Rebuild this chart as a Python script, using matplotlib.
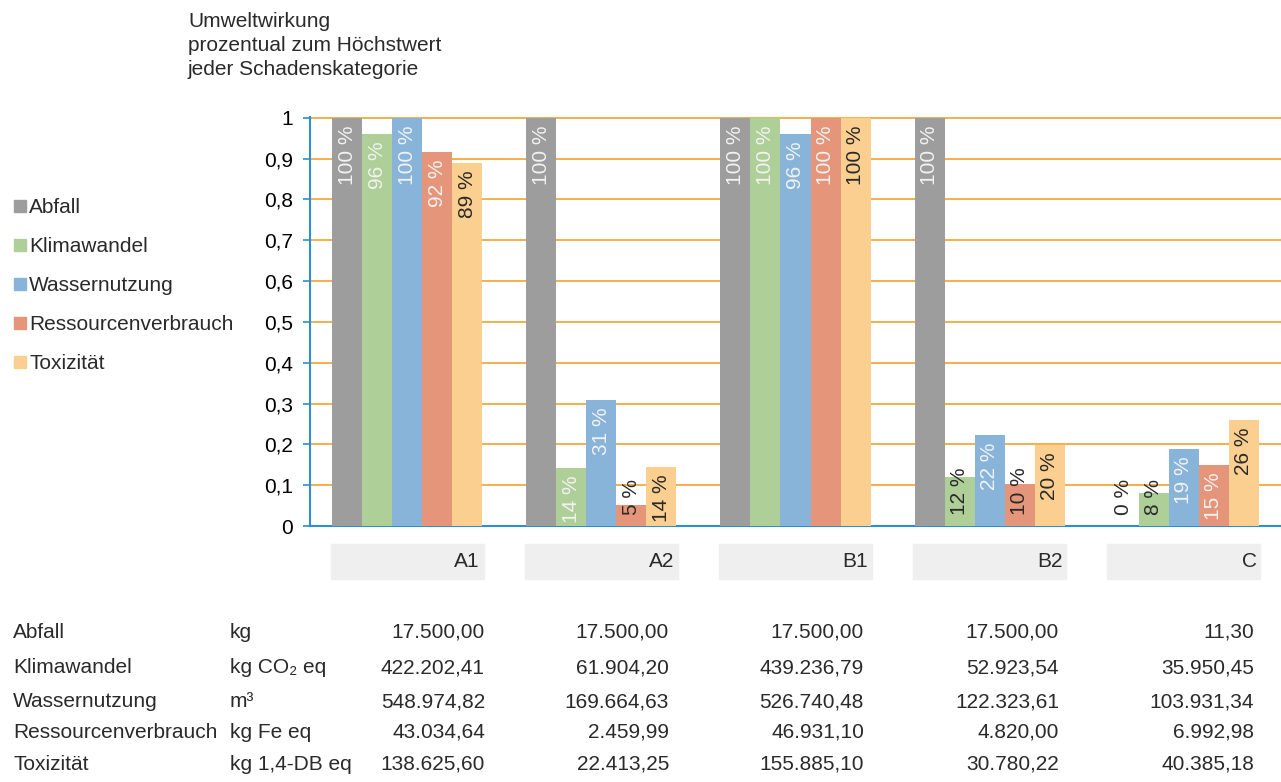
import numpy as np
import matplotlib.pyplot as plt
from matplotlib.patches import Rectangle
from matplotlib.transforms import blended_transform_factory

plt.rcParams['font.family'] = ['Liberation Sans', 'DejaVu Sans']
plt.rcParams['text.color'] = '#2a2a2a'

# Absolute results per variant
varianten = ['A1', 'A2', 'B1', 'B2', 'C']
kategorien = ['Abfall', 'Klimawandel', 'Wassernutzung', 'Ressourcenverbrauch', 'Toxizität']
einheiten = ['kg', 'kg CO₂ eq', 'm³', 'kg Fe eq', 'kg 1,4-DB eq']
abfall = [17500.00, 17500.00, 17500.00, 17500.00, 11.30]
klimawandel = [422202.41, 61904.20, 439236.79, 52923.54, 35950.45]
wassernutzung = [548974.82, 169664.63, 526740.48, 122323.61, 103931.34]
ressourcen = [43034.64, 2459.99, 46931.10, 4820.00, 6992.98]
toxizitaet = [138625.60, 22413.25, 155885.10, 30780.22, 40385.18]

farben = ['#9c9d9c', '#afcf98', '#88b4da', '#e5957a', '#fbcf8f']
textfarben = ['#f2f2f2', '#f2f2f2', '#f2f2f2', '#f2f2f2', '#2a2a2a']
blau = '#2a8fd3'
fs = 15

werte = np.array([abfall, klimawandel, wassernutzung, ressourcen, toxizitaet])
anteile = werte / werte.max(axis=1, keepdims=True)


def de_zahl(v):
    s = f'{v:,.2f}'
    return s.replace(',', 'X').replace('.', ',').replace('X', '.')


W, H = 1281, 782
fig = plt.figure(figsize=(W / 100, H / 100), dpi=100)
ax = fig.add_axes([310 / W, 1 - 526 / H, 971 / W, 409 / H])

x = np.arange(len(varianten)) + 0.5
breite = 0.1545
for i, farbe in enumerate(farben):
    pos = x + (i - 2) * breite
    ax.bar(pos, anteile[i], breite, color=farbe, zorder=3)
    for p, v in zip(pos, anteile[i]):
        txt = f'{v * 100:.0f} %'
        if v >= 0.13:
            ax.text(p, v - 0.018, txt, rotation=90, ha='center', va='top',
                    color=textfarben[i], fontsize=fs, zorder=4)
        else:
            ax.text(p, 0.028, txt, rotation=90, ha='center', va='bottom',
                    color='#2a2a2a', fontsize=fs, zorder=4)

ax.set_xlim(0, len(varianten))
ax.set_ylim(0, 1.002)
ax.set_yticks(np.arange(0, 1.01, 0.1))
ax.set_yticklabels(['0'] + [f'0,{k}' for k in range(1, 10)] + ['1'], fontsize=fs)
ax.set_xticks([])
ax.yaxis.grid(True, color='#f3a12c', linewidth=1.2)
ax.set_axisbelow(True)
for s in ['top', 'right']:
    ax.spines[s].set_visible(False)
for s in ['left', 'bottom']:
    ax.spines[s].set_color(blau)
    ax.spines[s].set_linewidth(1.5)
ax.tick_params(axis='y', direction='out', length=5, width=1.2, color=blau, pad=7)

# grey label boxes under each group
trans = blended_transform_factory(ax.transData, ax.transAxes)
for c, name in zip(x, varianten):
    ax.add_patch(Rectangle((c - 0.394, -0.13), 0.788, 0.086, transform=trans,
                           color='#efefef', clip_on=False, zorder=1))
    ax.text(c + 0.375, -0.087, name, transform=trans, ha='right', va='center', fontsize=fs)

# heading
titel = ['Umweltwirkung', 'prozentual zum Höchstwert', 'jeder Schadenskategorie']
for k, zeile in enumerate(titel):
    fig.text(188 / W, 1 - (27 + 24 * k) / H, zeile, ha='left', va='baseline', fontsize=fs)

# legend on the left
for k, (kat, farbe) in enumerate(zip(kategorien, farben)):
    base = 213 + 39 * k
    fig.add_artist(Rectangle((14 / W, 1 - (base - 1) / H), 12 / W, 12 / H,
                             transform=fig.transFigure, color=farbe))
    fig.text(29 / W, 1 - base / H, kat, ha='left', va='baseline', fontsize=fs)

# table of absolute values
zeilen_base = [638, 673, 707, 738, 770]
spalten_x = [485, 669, 864, 1059, 1254]
for r, (kat, einheit) in enumerate(zip(kategorien, einheiten)):
    y = 1 - zeilen_base[r] / H
    fig.text(13 / W, y, kat, ha='left', va='baseline', fontsize=fs)
    fig.text(230 / W, y, einheit, ha='left', va='baseline', fontsize=fs)
    for c, sx in enumerate(spalten_x):
        fig.text(sx / W, y, de_zahl(werte[r, c]), ha='right', va='baseline', fontsize=fs)

fig.savefig('out.png', dpi=100)
